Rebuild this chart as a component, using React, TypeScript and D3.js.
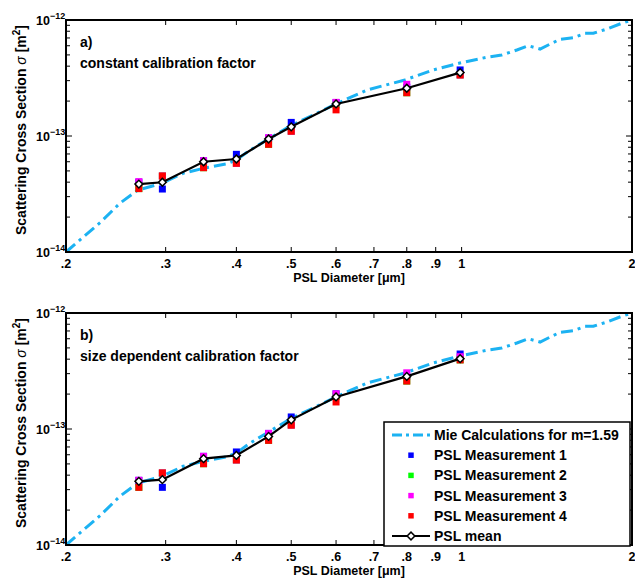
import React from "react";
import * as d3 from "d3";

// ---------- data ----------
const diameters = [0.269, 0.296, 0.35, 0.4, 0.456, 0.5, 0.6, 0.8, 0.994];

const aMeas1 = [4.0e-14, 3.49e-14, 6.1e-14, 6.95e-14, 9.6e-14, 1.31e-13, 1.94e-13, 2.63e-13, 3.71e-13];
const aMeas2 = [3.52e-14, 4.52e-14, 5.33e-14, 5.82e-14, 8.48e-14, 1.1e-13, 1.85e-13, 2.36e-13, 3.36e-13];
const aMeas3 = [4.04e-14, 4.52e-14, 6.12e-14, 5.82e-14, 9.66e-14, 1.1e-13, 1.95e-13, 2.79e-13, 3.36e-13];
const aMeas4 = [3.52e-14, 4.52e-14, 5.33e-14, 5.82e-14, 8.48e-14, 1.1e-13, 1.68e-13, 2.36e-13, 3.36e-13];
const aMean = [3.85e-14, 3.99e-14, 6.0e-14, 6.33e-14, 9.42e-14, 1.2e-13, 1.89e-13, 2.58e-13, 3.52e-13];

const bMeas1 = [3.61e-14, 3.14e-14, 5.81e-14, 6.34e-14, 9.16e-14, 1.27e-13, 2.01e-13, 2.86e-13, 4.43e-13];
const bMeas2 = [3.14e-14, 4.18e-14, 5.02e-14, 5.41e-14, 7.98e-14, 1.08e-13, 1.91e-13, 2.59e-13, 3.94e-13];
const bMeas3 = [3.61e-14, 4.18e-14, 5.81e-14, 5.41e-14, 9.16e-14, 1.08e-13, 2.01e-13, 3.05e-13, 4.2e-13];
const bMeas4 = [3.14e-14, 4.18e-14, 5.02e-14, 5.41e-14, 7.98e-14, 1.08e-13, 1.71e-13, 2.59e-13, 3.94e-13];
const bMean = [3.54e-14, 3.66e-14, 5.55e-14, 5.92e-14, 8.63e-14, 1.2e-13, 1.89e-13, 2.84e-13, 4.04e-13];

const mieDiam = [0.2, 0.23, 0.249, 0.268, 0.295, 0.322, 0.35, 0.384, 0.4, 0.423, 0.453, 0.498, 0.547, 0.594, 0.68, 0.794, 0.89, 0.993, 1.107, 1.177, 1.252, 1.311, 1.376, 1.443, 1.492, 1.576, 1.652, 1.709, 1.805, 1.918, 2.0];
const mieSigma = [1.0e-14, 1.8e-14, 2.63e-14, 3.42e-14, 3.9e-14, 4.77e-14, 5.27e-14, 5.74e-14, 6.21e-14, 7.57e-14, 9.24e-14, 1.22e-13, 1.52e-13, 1.85e-13, 2.49e-13, 3.04e-13, 3.71e-13, 4.26e-13, 4.77e-13, 4.99e-13, 5.51e-13, 6.0e-13, 5.62e-13, 6.3e-13, 6.82e-13, 7.04e-13, 7.68e-13, 7.68e-13, 8.36e-13, 9.37e-13, 1.0e-12];

const xTickValues = [0.2, 0.3, 0.4, 0.5, 0.6, 0.7, 0.8, 0.9, 1, 2];
const xTickLabels = [".2", ".3", ".4", ".5", ".6", ".7", ".8", ".9", "1", "2"];
const yMajorExponents = [-14, -13, -12];

const legendLabels = [
  "Mie Calculations for m=1.59",
  "PSL Measurement 1",
  "PSL Measurement 2",
  "PSL Measurement 3",
  "PSL Measurement 4",
  "PSL mean",
];

const measColors = ["#0000ff", "#00ff00", "#ff00ff", "#ff0000"];
const mieColor = "#1cb2f2";
const FONT = "'Liberation Sans', Arial, Helvetica, sans-serif";

const W = 635;
const H = 580;
const LEFT = 66;
const RIGHT = 632;

type PanelProps = {
  top: number;
  bottom: number;
  tag: string;
  title: string;
  meas: number[][];
  mean: number[];
  legend?: boolean;
};

function Panel({ top, bottom, tag, title, meas, mean, legend }: PanelProps) {
  const x = d3.scaleLog().domain([0.2, 2]).range([LEFT, RIGHT]);
  const y = d3.scaleLog().domain([1e-14, 1e-12]).range([bottom, top]);

  const mieLine = d3
    .line<number>()
    .x((_, i) => x(mieDiam[i]))
    .y((d) => y(d))
    .curve(d3.curveLinear);
  const meanLine = d3
    .line<number>()
    .x((_, i) => x(diameters[i]))
    .y((d) => y(d));

  const square = d3.symbol().type(d3.symbolSquare).size(49)()!;
  const diamond = d3.symbol().type(d3.symbolSquare).size(30)()!;

  // minor y ticks
  const yMinor: number[] = [];
  for (let e = -14; e < -12; e++) {
    for (let k = 2; k <= 9; k++) yMinor.push(k * Math.pow(10, e));
  }

  const midY = (top + bottom) / 2;
  const mieDash = "12,5,3,5";

  return (
    <g>
      {/* Mie curve */}
      <path
        d={mieLine(mieSigma) || ""}
        fill="none"
        stroke={mieColor}
        strokeWidth={3}
        strokeDasharray={mieDash}
      />
      {/* measurements */}
      {meas.map((series, si) =>
        series.map((v, i) => (
          <path
            key={`m${si}-${i}`}
            d={square}
            transform={`translate(${x(diameters[i])},${y(v)})`}
            fill={measColors[si]}
          />
        ))
      )}
      {/* mean */}
      <path d={meanLine(mean) || ""} fill="none" stroke="#000" strokeWidth={2.2} />
      {mean.map((v, i) => (
        <path
          key={`mean${i}`}
          d={diamond}
          transform={`translate(${x(diameters[i])},${y(v)}) rotate(45)`}
          fill="#fff"
          stroke="#000"
          strokeWidth={1.5}
        />
      ))}

      {/* y ticks */}
      {yMinor.map((v, i) => (
        <g key={`ym${i}`}>
          <line x1={LEFT} x2={LEFT + 4} y1={y(v)} y2={y(v)} stroke="#000" strokeWidth={1} />
          <line x1={RIGHT} x2={RIGHT - 4} y1={y(v)} y2={y(v)} stroke="#000" strokeWidth={1} />
        </g>
      ))}
      {yMajorExponents.map((e) => {
        const yy = y(Math.pow(10, e));
        return (
          <g key={`yM${e}`}>
            <line x1={LEFT} x2={LEFT + 6} y1={yy} y2={yy} stroke="#000" strokeWidth={1} />
            <line x1={RIGHT} x2={RIGHT - 6} y1={yy} y2={yy} stroke="#000" strokeWidth={1} />
            <text x={50} y={yy + 5} textAnchor="end" fontFamily={FONT} fontWeight="bold" fontSize={12.5}>
              10
            </text>
            <text x={50} y={yy - 1} textAnchor="start" fontFamily={FONT} fontWeight="bold" fontSize={9}>
              {"\u2212" + Math.abs(e)}
            </text>
          </g>
        );
      })}

      {/* x ticks */}
      {xTickValues.map((v, i) => (
        <g key={`xt${i}`}>
          <line x1={x(v)} x2={x(v)} y1={bottom} y2={bottom - 5} stroke="#000" strokeWidth={1} />
          <line x1={x(v)} x2={x(v)} y1={top} y2={top + 5} stroke="#000" strokeWidth={1} />
          <text
            x={x(v)}
            y={bottom + 16}
            textAnchor="middle"
            fontFamily={FONT}
            fontWeight="bold"
            fontSize={12.5}
          >
            {xTickLabels[i]}
          </text>
        </g>
      ))}

      {/* box */}
      <rect x={LEFT} y={top} width={RIGHT - LEFT} height={bottom - top} fill="none" stroke="#000" strokeWidth={2} />

      {/* labels */}
      <text
        x={(LEFT + RIGHT) / 2}
        y={bottom + 30}
        textAnchor="middle"
        fontFamily={FONT}
        fontWeight="bold"
        fontSize={12.5}
      >
        PSL Diameter [μm]
      </text>
      <text
        transform={`translate(26,${midY - 6}) rotate(-90)`}
        textAnchor="middle"
        fontFamily={FONT}
        fontWeight="bold"
        fontSize={14}
      >
        Scattering Cross Section{" "}
        <tspan fontStyle="italic" fontWeight="normal">σ</tspan> [m
        <tspan dy={-6} fontSize={10}>2</tspan>
        <tspan dy={6}>]</tspan>
      </text>
      <text x={80} y={top + 27} fontFamily={FONT} fontWeight="bold" fontSize={14}>
        {tag}
      </text>
      <text x={80} y={top + 48} fontFamily={FONT} fontWeight="bold" fontSize={14}>
        {title}
      </text>

      {legend && (
        <g>
          <rect x={384} y={422} width={246} height={124} fill="#fff" stroke="#000" strokeWidth={1.5} />
          {legendLabels.map((lab, i) => {
            const ly = 435 + i * 20.2;
            return (
              <g key={`lg${i}`}>
                {i === 0 && (
                  <line x1={392} x2={430} y1={ly} y2={ly} stroke={mieColor} strokeWidth={3} strokeDasharray="10,4,3,4" />
                )}
                {i >= 1 && i <= 4 && (
                  <path d={d3.symbol().type(d3.symbolSquare).size(30)()!} transform={`translate(411,${ly})`} fill={measColors[i - 1]} />
                )}
                {i === 5 && (
                  <g>
                    <line x1={392} x2={430} y1={ly} y2={ly} stroke="#000" strokeWidth={2.2} />
                    <path d={diamond} transform={`translate(411,${ly}) rotate(45)`} fill="#fff" stroke="#000" strokeWidth={1.5} />
                  </g>
                )}
                <text x={434} y={ly + 5} fontFamily={FONT} fontWeight="bold" fontSize={14}>
                  {lab}
                </text>
              </g>
            );
          })}
        </g>
      )}
    </g>
  );
}

export default function App() {
  return (
    <svg
      width={W}
      height={H}
      style={{ position: "absolute", left: 0, top: 0, background: "#fff" }}
    >
      <rect x={0} y={0} width={W} height={H} fill="#fff" />
      <Panel
        top={20}
        bottom={252}
        tag="a)"
        title="constant calibration factor"
        meas={[aMeas1, aMeas2, aMeas3, aMeas4]}
        mean={aMean}
      />
      <Panel
        top={313}
        bottom={545}
        tag="b)"
        title="size dependent calibration factor"
        meas={[bMeas1, bMeas2, bMeas3, bMeas4]}
        mean={bMean}
        legend
      />
    </svg>
  );
}
